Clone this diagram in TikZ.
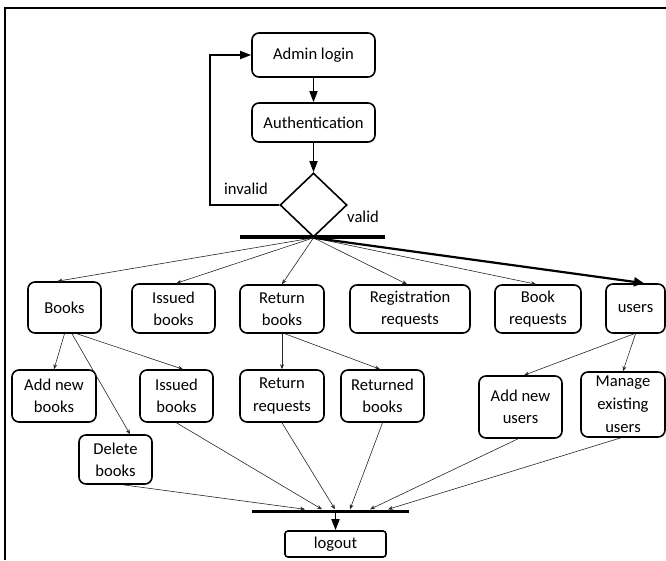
\documentclass[tikz,border=0pt]{standalone}
\usepackage{fontspec}
\setmainfont{Carlito}
\usetikzlibrary{shapes.geometric,arrows.meta}
\begin{document}
\begin{tikzpicture}[x=1pt,y=-1pt,
    box/.style={draw,line width=1.6pt,rounded corners=7pt,align=center,inner sep=0pt,font=\fontsize{16.6}{22.3}\selectfont},
    lbl/.style={inner sep=0pt,font=\fontsize{16.6}{20}\selectfont},
    flow/.style={line width=1.6pt,-{Triangle[length=11pt,width=8pt]}},
    link/.style={line width=0.6pt,black!85,-{Stealth[length=5pt,width=4pt]}},
    bar/.style={fill=black,inner sep=0pt}]
  \useasboundingbox (0,0) rectangle (666,560);
  \draw [line width=1.2pt] (5,560) -- (5,8) -- (666,8);
  \node [box,minimum width=123pt,minimum height=44pt] (admin) at (313.5,55) {Admin login};
  \node [box,minimum width=123pt,minimum height=39pt] (auth) at (313.5,122.5) {Authentication};
  \node [draw,diamond,line width=1.6pt,inner sep=0pt,minimum width=67pt,minimum height=64pt] (dec) at (313.5,205) {};
  \node [lbl] (inv) at (246,189) {invalid};
  \node [lbl] (val) at (363,217) {valid};
  \node [bar,minimum width=145pt,minimum height=3.5pt] (fork) at (312.5,237) {};
  \node [box,minimum width=73pt,minimum height=51pt] (books) at (64.5,307.5) {Books};
  \node [box,minimum width=83pt,minimum height=49pt] (issued) at (173.5,308.5) {Issued\\books};
  \node [box,minimum width=84pt,minimum height=48pt] (retbooks) at (282,309) {Return\\books};
  \node [box,minimum width=120pt,minimum height=48pt] (regreq) at (410,309) {Registration\\requests};
  \node [box,minimum width=86pt,minimum height=48pt] (bookreq) at (538,309) {Book\\requests};
  \node [box,minimum width=59pt,minimum height=49pt] (users) at (635.5,308.5) {users};
  \node [box,minimum width=84pt,minimum height=52pt] (addbooks) at (54,396) {Add new\\books};
  \node [box,minimum width=73pt,minimum height=52pt] (issued2) at (176.5,396) {Issued\\books};
  \node [box,minimum width=73pt,minimum height=49pt] (delbooks) at (115.5,459.5) {Delete\\books};
  \node [box,minimum width=84pt,minimum height=52pt] (retreq) at (282,396) {Return\\requests};
  \node [box,minimum width=83pt,minimum height=52pt] (returned) at (382.5,396) {Returned\\books};
  \node [box,minimum width=83pt,minimum height=62pt] (addusers) at (520.5,407) {Add new\\users};
  \node [box,minimum width=84pt,minimum height=65pt,font=\fontsize{16.6}{23}\selectfont] (manage) at (623,404.5) {Manage\\existing\\users};
  \node [bar,minimum width=157pt,minimum height=3pt] (merge) at (330.5,511) {};
  \node [box,rounded corners=3pt,minimum width=101pt,minimum height=26pt] (logout) at (335.5,544) {logout};
  \draw [flow] (admin) -- (auth);
  \draw [flow] (auth) -- (dec);
  \draw [flow] (dec.west) -- ++(-69,0) |- (admin.west);
  \draw [link] (dec.south) -- ([xshift=-7pt]books.north);
  \draw [link] (dec.south) -- ([xshift=3pt]issued.north);
  \draw [link] (dec.south) -- (retbooks.north);
  \draw [link] (dec.south) -- ([xshift=-3pt]regreq.north);
  \draw [link] (dec.south) -- ([xshift=-2pt]bookreq.north);
  \draw [line width=2.2pt,-{Triangle[length=10pt,width=9pt]}] (dec.south) -- ([xshift=8.5pt]users.north);
  \draw [link] (books.south) -- (addbooks.north);
  \draw [link] ([xshift=7.5pt]books.south) -- ([xshift=14.5pt]delbooks.north);
  \draw [link] ([xshift=12.5pt]books.south) -- ([xshift=6.5pt]issued2.north);
  \draw [link] (retbooks.south) -- (retreq.north);
  \draw [link] ([xshift=3pt]retbooks.south) -- ([xshift=-2.5pt]returned.north);
  \draw [link] ([xshift=-1.5pt]users.south) -- ([xshift=3.5pt]addusers.north);
  \draw [link] (users.south) -- (manage.north);
  \draw [link] ([xshift=7.5pt]delbooks.south) -- ([xshift=-25.5pt]merge.north);
  \draw [link] (issued2.south) -- ([xshift=-8.5pt]merge.north);
  \draw [link] (retreq.south) -- ([xshift=4.5pt]merge.north);
  \draw [link] (returned.south) -- ([xshift=19.5pt]merge.north);
  \draw [link] ([xshift=-2.5pt]addusers.south) -- ([xshift=39.5pt]merge.north);
  \draw [link] ([xshift=-2pt]manage.south) -- ([xshift=57.5pt]merge.north);
  \draw [flow] (merge.south -| logout.north) -- (logout.north);
\end{tikzpicture}
\end{document}
